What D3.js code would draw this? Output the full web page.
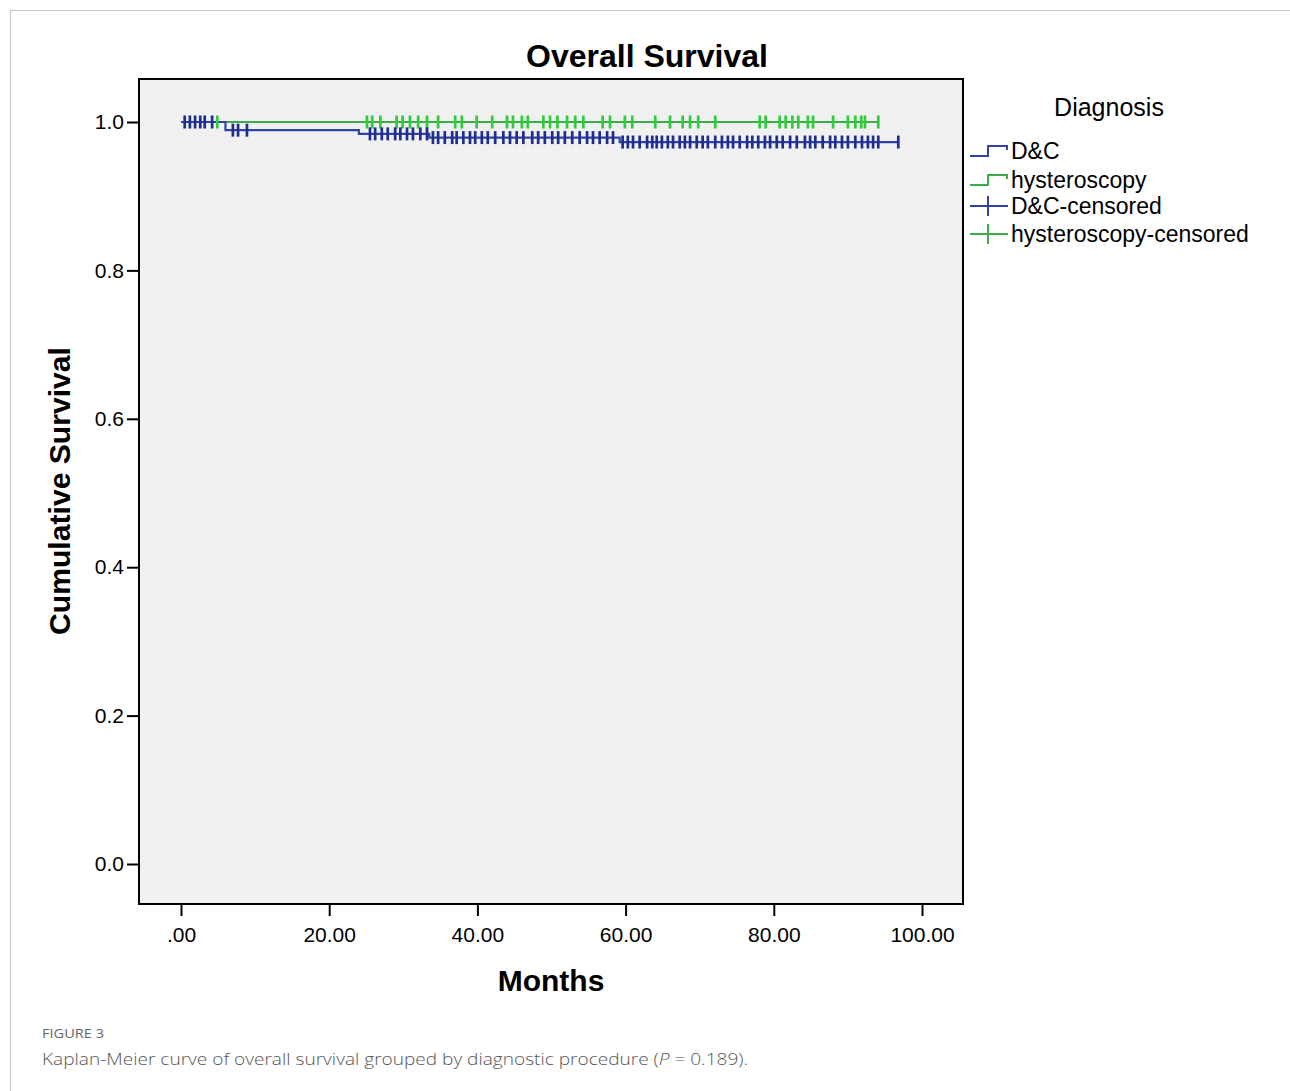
<!DOCTYPE html>
<html><head><meta charset="utf-8">
<script src="https://cdn.jsdelivr.net/npm/d3@7"></script>
<style>html,body{margin:0;padding:0;background:#fff;}svg{display:block;}</style>
</head><body>
<script>
// ---- data (months / cumulative survival) ----
const groups = ["D&C", "hysteroscopy"];
const dcEventTimes = [0, 6.0, 24.0, 33.5, 59.2];
const dcEventSurv  = [1.0, 0.989, 0.984, 0.979, 0.973];
const dcEnd = 96.8;
const hyEventTimes = [0];
const hyEventSurv  = [1.0];
const hyEnd = 94.1;
const dcCensored = [0.5,1.2,1.9,2.6,3.2,4.2,7.0,7.7,8.9,
 25.5,26.2,27.1,27.9,28.9,29.6,30.5,31.3,32.3,33.2,34.0,34.7,35.6,36.6,37.2,38.1,39.0,39.7,40.6,41.4,42.4,
 43.5,44.4,45.3,46.2,47.4,48.2,49.1,50.1,50.9,51.8,52.8,53.8,54.8,55.6,56.5,57.5,58.3,59.6,60.3,61.0,61.9,62.9,
 63.6,64.2,64.9,65.7,66.4,67.3,68.0,68.7,69.6,70.4,71.1,72.1,73.0,73.8,74.5,75.4,76.4,77.1,77.9,78.8,79.5,80.4,
 81.2,82.2,83.1,84.2,84.9,85.6,86.6,87.6,88.3,89.2,90.0,91.0,91.9,92.7,93.4,94.1,96.8];
const hyCensored = [4.9,25.1,25.8,26.9,29.1,29.9,30.9,32.0,33.2,34.7,37.0,37.9,39.9,42.0,44.0,44.8,46.0,46.8,48.9,49.8,
 50.8,52.1,53.2,54.3,56.9,57.9,59.9,60.9,64.0,66.0,67.7,68.7,69.8,72.1,78.1,78.9,80.8,81.6,82.5,83.3,84.6,85.3,
 88.0,90.0,91.0,91.8,92.3,94.1];
const xTickValues = [0,20,40,60,80,100];
const xTickLabels = [".00","20.00","40.00","60.00","80.00","100.00"];
const yTickValues = [0,0.2,0.4,0.6,0.8,1.0];
const yTickLabels = ["0.0","0.2","0.4","0.6","0.8","1.0"];
const legendLabels = ["D&C","hysteroscopy","D&C-censored","hysteroscopy-censored"];

// ---- styles ----
const blueLine = "#3343a3", blueTick = "#1f2d8f";
const greenLine = "#3aac48", greenTick = "#2ecc3a";
const font = "'Liberation Sans', Arial, sans-serif";

const W = 1290, H = 1091;
const svg = d3.select("body").append("svg").attr("width", W).attr("height", H);

// outer frame
svg.append("path").attr("d", `M10.5,${H} V10.5 H${W}`).attr("fill","none").attr("stroke","#c8c8c8").attr("stroke-width",1);

const plot = {l:139, t:79, r:963, b:904};
const x = d3.scaleLinear().domain([0,100]).range([181,922]);
const y = d3.scaleLinear().domain([0,1]).range([864,122]);

svg.append("rect").attr("x",plot.l).attr("y",plot.t).attr("width",plot.r-plot.l).attr("height",plot.b-plot.t)
  .attr("fill","#f0f0f0").attr("stroke","#000").attr("stroke-width",2);

// title
svg.append("text").attr("x",647).attr("y",67).attr("text-anchor","middle")
  .attr("font-family",font).attr("font-weight","bold").attr("font-size",32).text("Overall Survival");

// axes
const yAxis = d3.axisLeft(y).tickValues(yTickValues).tickFormat((d,i)=>yTickLabels[i]).tickSize(12).tickPadding(3);
const gy = svg.append("g").attr("transform",`translate(${plot.l},0)`).call(yAxis);
gy.select(".domain").remove();
gy.selectAll(".tick line").attr("stroke","#000").attr("stroke-width",2);
gy.selectAll(".tick text").attr("font-family",font).attr("font-size",21).attr("fill","#000");

const xAxis = d3.axisBottom(x).tickValues(xTickValues).tickFormat((d,i)=>xTickLabels[i]).tickSize(12).tickPadding(11);
const gx = svg.append("g").attr("transform",`translate(0,${plot.b})`).call(xAxis);
gx.select(".domain").remove();
gx.selectAll(".tick line").attr("stroke","#000").attr("stroke-width",2);
gx.selectAll(".tick text").attr("font-family",font).attr("font-size",21).attr("fill","#000");

// axis titles
svg.append("text").attr("x",551).attr("y",991).attr("text-anchor","middle")
  .attr("font-family",font).attr("font-weight","bold").attr("font-size",30).text("Months");
svg.append("text").attr("transform","translate(70,491) rotate(-90)").attr("text-anchor","middle")
  .attr("font-family",font).attr("font-weight","bold").attr("font-size",29)
  .attr("textLength",288).attr("lengthAdjust","spacingAndGlyphs").text("Cumulative Survival");

// curves
function survAt(times, surv, t){ let s = surv[0]; for(let i=0;i<times.length;i++){ if(times[i]<=t) s = surv[i]; } return s; }
function curvePts(times, surv, end){ const p = times.map((t,i)=>[t,surv[i]]); p.push([end, surv[surv.length-1]]); return p; }
const line = d3.line().x(d=>x(d[0])).y(d=>y(d[1])).curve(d3.curveStepAfter);

const series = [
  {times:hyEventTimes, surv:hyEventSurv, end:hyEnd, cens:hyCensored, lc:greenLine, tc:greenTick},
  {times:dcEventTimes, surv:dcEventSurv, end:dcEnd, cens:dcCensored, lc:blueLine, tc:blueTick}
];
series.forEach(s=>{
  svg.append("path").attr("d", line(curvePts(s.times,s.surv,s.end))).attr("fill","none")
    .attr("stroke", s.lc).attr("stroke-width",2.2);
});
series.forEach(s=>{
  svg.append("g").selectAll("line").data(s.cens).join("line")
    .attr("x1",d=>x(d)).attr("x2",d=>x(d))
    .attr("y1",d=>y(survAt(s.times,s.surv,d))-6.5).attr("y2",d=>y(survAt(s.times,s.surv,d))+6.5)
    .attr("stroke", s.tc).attr("stroke-width",2.7);
});

// legend
svg.append("text").attr("x",1109).attr("y",116).attr("text-anchor","middle")
  .attr("font-family",font).attr("font-size",25).text("Diagnosis");
const legY = [151,180,206,234];
const legCol = [blueLine, greenLine, blueLine, greenLine];
legendLabels.forEach((lab,i)=>{
  const yy = legY[i];
  if(i<2){
    svg.append("path").attr("d",`M970,${yy+5} H988 V${yy-5} H1007 V${yy-1}`).attr("fill","none")
      .attr("stroke",legCol[i]).attr("stroke-width",2);
  } else {
    svg.append("path").attr("d",`M970,${yy} H1008 M988,${yy-10} V${yy+10}`).attr("fill","none")
      .attr("stroke",legCol[i]).attr("stroke-width",2);
  }
  svg.append("text").attr("x",1011).attr("y",yy+8).attr("font-family",font).attr("font-size",23).text(lab);
});

// caption
svg.append("text").attr("x",42).attr("y",1038).attr("font-family","'Open Sans', 'Noto Sans', sans-serif")
  .attr("font-size",13).attr("fill","#666").attr("textLength",62).attr("lengthAdjust","spacingAndGlyphs").text("FIGURE 3");
const cap = svg.append("text").attr("x",42).attr("y",1065).attr("font-family","'Open Sans', 'Noto Sans', sans-serif")
  .attr("font-size",17).attr("font-weight",300).attr("fill","#555").attr("textLength",706).attr("lengthAdjust","spacingAndGlyphs");
cap.append("tspan").text("Kaplan-Meier curve of overall survival grouped by diagnostic procedure (");
cap.append("tspan").attr("font-style","italic").text("P");
cap.append("tspan").text(" = 0.189).");
</script>
</body></html>
